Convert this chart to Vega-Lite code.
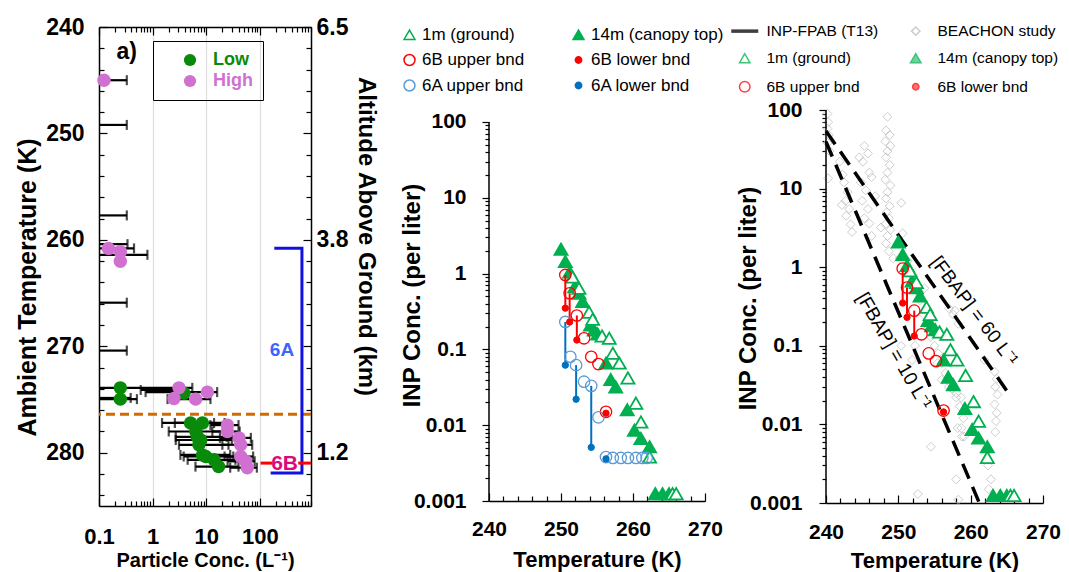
{
  "$schema": "https://vega.github.io/schema/vega-lite/v6.json",
  "padding": {"left": 15, "top": 16, "right": 5, "bottom": 2},
  "background": "white",
  "config": {
    "view": {"stroke": null},
    "font": "Liberation Sans",
    "axis": {
      "labelFont": "Liberation Sans", "titleFont": "Liberation Sans",
      "labelFontSize": 21, "labelFontWeight": "bold", "titleFontSize": 22, "titleFontWeight": "bold",
      "labelColor": "black", "titleColor": "black", "domainColor": "black", "tickColor": "black",
      "domainWidth": 1.5, "tickWidth": 1.2, "grid": false, "labelFlush": false, "labelOverlap": false
    },
    "legend": {"labelFont": "Liberation Sans", "labelColor": "black"}
  },
  "datasets": {
    "p1": [
      {"T": 245.0, "x": 0.124, "lo": 0.1, "hi": 0.33, "g": "High"},
      {"T": 249.2, "lo": 0.1, "hi": 0.33},
      {"T": 257.7, "lo": 0.1, "hi": 0.33},
      {"T": 260.4, "lo": 0.1, "hi": 0.34},
      {"T": 260.8, "x": 0.15, "lo": 0.1, "hi": 0.45, "g": "High"},
      {"T": 261.4, "lo": 0.1, "hi": 0.8},
      {"T": 261.1, "x": 0.25, "g": "High"},
      {"T": 262.0, "x": 0.25, "g": "High"},
      {"T": 265.9, "lo": 0.1, "hi": 0.33},
      {"T": 270.4, "lo": 0.1, "hi": 0.33},
      {"T": 273.9, "x": 0.25, "lo": 0.1, "hi": 5.5, "g": "Low"},
      {"T": 274.96, "x": 0.25, "lo": 0.1, "hi": 0.51, "g": "Low"},
      {"T": 274.4, "x": 3.85, "g": "Low"},
      {"T": 274.1, "lo": 0.6, "hi": 3.6},
      {"T": 274.85, "lo": 0.1, "hi": 0.39},
      {"T": 273.9, "x": 3.1, "g": "High"},
      {"T": 274.3, "x": 10.5, "lo": 0.74, "hi": 16, "g": "High"},
      {"T": 274.9, "x": 2.5, "g": "High"},
      {"T": 274.96, "x": 6.35, "lo": 1.9, "hi": 12, "g": "High"},
      {"T": 277.2, "x": 5.1, "lo": 1.5, "hi": 14, "g": "Low"},
      {"T": 277.2, "x": 8.5, "lo": 2.6, "hi": 22, "g": "Low"},
      {"T": 278.0, "x": 6.4, "lo": 2.0, "hi": 21, "g": "Low"},
      {"T": 278.5, "x": 6.8, "lo": 2.7, "hi": 24, "g": "Low"},
      {"T": 278.8, "x": 7.9, "lo": 2.7, "hi": 30, "g": "Low"},
      {"T": 279.25, "x": 7.3, "lo": 3.1, "hi": 26, "g": "Low"},
      {"T": 280.2, "x": 8.5, "lo": 3.3, "hi": 28, "g": "Low"},
      {"T": 280.35, "x": 9.8, "lo": 3.8, "hi": 32, "g": "Low"},
      {"T": 280.66, "x": 14, "lo": 4.5, "hi": 35, "g": "Low"},
      {"T": 281.3, "x": 17, "lo": 6.3, "hi": 40, "g": "Low"},
      {"T": 277.4, "x": 24.8, "lo": 12, "hi": 40, "g": "High"},
      {"T": 278.0, "x": 24.8, "lo": 13, "hi": 42, "g": "High"},
      {"T": 278.6, "x": 41, "lo": 18, "hi": 68, "g": "High"},
      {"T": 279.25, "x": 44, "lo": 20, "hi": 72, "g": "High"},
      {"T": 280.35, "x": 44, "lo": 22, "hi": 75, "g": "High"},
      {"T": 280.8, "x": 54.5, "lo": 25, "hi": 80, "g": "High"},
      {"T": 281.4, "x": 58.5, "lo": 28, "hi": 88, "g": "High"}
    ],
    "p1line": [{"T": 276.37}],
    "bracket": [
      {"x": 186, "T": 260.78, "k": 1},
      {"x": 610, "T": 260.78, "k": 2},
      {"x": 610, "T": 281.9, "k": 3},
      {"x": 159, "T": 281.9, "k": 4}
    ],
    "red6b": [
      {"x": 103, "x2": 170, "T": 280.97},
      {"x": 520, "x2": 900, "T": 280.97}
    ],
    "lab1": [
      {"x": 259, "T": 270.33, "t": "6A"},
      {"x": 289, "T": 281.05, "t": "6B"},
      {"x": 0.33, "T": 242.35, "t": "a)"}
    ],
    "yline": [{"T": 240, "lo": 0.001, "hi": 100}],
    "inp": [
      {"T": 250.0, "v": 2.1, "s": "14m (canopy top)"},
      {"T": 250.6, "v": 1.45, "s": "14m (canopy top)"},
      {"T": 251.2, "v": 1.05, "s": "14m (canopy top)"},
      {"T": 251.9, "v": 0.67, "s": "14m (canopy top)"},
      {"T": 252.5, "v": 0.55, "s": "14m (canopy top)"},
      {"T": 253.0, "v": 0.43, "s": "14m (canopy top)"},
      {"T": 254.1, "v": 0.21, "s": "14m (canopy top)"},
      {"T": 254.6, "v": 0.18, "s": "14m (canopy top)"},
      {"T": 255.1, "v": 0.16, "s": "14m (canopy top)"},
      {"T": 256.25, "v": 0.066, "s": "14m (canopy top)"},
      {"T": 256.9, "v": 0.04, "s": "14m (canopy top)"},
      {"T": 257.6, "v": 0.032, "s": "14m (canopy top)"},
      {"T": 259.2, "v": 0.016, "s": "14m (canopy top)"},
      {"T": 260.2, "v": 0.0086, "s": "14m (canopy top)"},
      {"T": 261.1, "v": 0.0067, "s": "14m (canopy top)"},
      {"T": 262.3, "v": 0.0052, "s": "14m (canopy top)"},
      {"T": 263.1, "v": 0.00125, "s": "14m (canopy top)"},
      {"T": 264.1, "v": 0.00125, "s": "14m (canopy top)"},
      {"T": 265.0, "v": 0.00125, "s": "14m (canopy top)"},
      {"T": 251.6, "v": 0.9, "s": "1m (ground)"},
      {"T": 252.5, "v": 0.64, "s": "1m (ground)"},
      {"T": 253.9, "v": 0.31, "s": "1m (ground)"},
      {"T": 254.4, "v": 0.25, "s": "1m (ground)"},
      {"T": 255.7, "v": 0.15, "s": "1m (ground)"},
      {"T": 256.7, "v": 0.14, "s": "1m (ground)"},
      {"T": 257.2, "v": 0.089, "s": "1m (ground)"},
      {"T": 258.1, "v": 0.066, "s": "1m (ground)"},
      {"T": 259.3, "v": 0.042, "s": "1m (ground)"},
      {"T": 260.4, "v": 0.0195, "s": "1m (ground)"},
      {"T": 261.1, "v": 0.011, "s": "1m (ground)"},
      {"T": 262.3, "v": 0.0038, "s": "1m (ground)"},
      {"T": 265.5, "v": 0.00125, "s": "1m (ground)"},
      {"T": 266.0, "v": 0.00125, "s": "1m (ground)"},
      {"T": 250.6, "v": 0.96, "s": "6B upper bnd"},
      {"T": 251.2, "v": 0.55, "s": "6B upper bnd"},
      {"T": 252.2, "v": 0.28, "s": "6B upper bnd"},
      {"T": 253.2, "v": 0.14, "s": "6B upper bnd"},
      {"T": 254.2, "v": 0.08, "s": "6B upper bnd"},
      {"T": 255.2, "v": 0.064, "s": "6B upper bnd"},
      {"T": 256.25, "v": 0.015, "s": "6B upper bnd"},
      {"T": 250.6, "v": 0.35, "s": "6B lower bnd"},
      {"T": 251.2, "v": 0.23, "s": "6B lower bnd"},
      {"T": 252.2, "v": 0.133, "s": "6B lower bnd"},
      {"T": 256.25, "v": 0.0144, "s": "6B lower bnd"},
      {"T": 250.6, "v": 0.23, "s": "6A upper bnd"},
      {"T": 251.3, "v": 0.08, "s": "6A upper bnd"},
      {"T": 252.1, "v": 0.062, "s": "6A upper bnd"},
      {"T": 253.2, "v": 0.0375, "s": "6A upper bnd"},
      {"T": 254.2, "v": 0.033, "s": "6A upper bnd"},
      {"T": 255.2, "v": 0.0127, "s": "6A upper bnd"},
      {"T": 256.25, "v": 0.0038, "s": "6A upper bnd"},
      {"T": 257.2, "v": 0.0037, "s": "6A upper bnd"},
      {"T": 258.3, "v": 0.0037, "s": "6A upper bnd"},
      {"T": 259.3, "v": 0.0037, "s": "6A upper bnd"},
      {"T": 260.4, "v": 0.0037, "s": "6A upper bnd"},
      {"T": 261.3, "v": 0.0037, "s": "6A upper bnd"},
      {"T": 261.9, "v": 0.0037, "s": "6A upper bnd"},
      {"T": 250.6, "v": 0.062, "s": "6A lower bnd"},
      {"T": 252.1, "v": 0.022, "s": "6A lower bnd"},
      {"T": 254.2, "v": 0.0051, "s": "6A lower bnd"},
      {"T": 256.25, "v": 0.0036, "s": "6A lower bnd"}
    ],
    "conn": [
      {"T": 250.6, "hi": 0.96, "lo": 0.35, "b": "6B"},
      {"T": 251.2, "hi": 0.55, "lo": 0.23, "b": "6B"},
      {"T": 252.2, "hi": 0.28, "lo": 0.133, "b": "6B"},
      {"T": 250.6, "hi": 0.23, "lo": 0.062, "b": "6A"},
      {"T": 252.1, "hi": 0.062, "lo": 0.022, "b": "6A"},
      {"T": 254.2, "hi": 0.033, "lo": 0.0051, "b": "6A"}
    ],
    "bch": [
      {"T": 240.2, "v": 90, "s": "BEACHON study"}, {"T": 240.3, "v": 70, "s": "BEACHON study"},
      {"T": 240.2, "v": 58, "s": "BEACHON study"}, {"T": 240.4, "v": 48, "s": "BEACHON study"},
      {"T": 240.2, "v": 38, "s": "BEACHON study"}, {"T": 240.5, "v": 30, "s": "BEACHON study"},
      {"T": 240.3, "v": 13.5, "s": "BEACHON study"},
      {"T": 241.9, "v": 22, "s": "BEACHON study"}, {"T": 242.3, "v": 15, "s": "BEACHON study"},
      {"T": 242.5, "v": 12, "s": "BEACHON study"}, {"T": 243.0, "v": 9, "s": "BEACHON study"},
      {"T": 242.7, "v": 7, "s": "BEACHON study"}, {"T": 243.2, "v": 5.5, "s": "BEACHON study"},
      {"T": 242.8, "v": 4.5, "s": "BEACHON study"}, {"T": 243.4, "v": 3.5, "s": "BEACHON study"},
      {"T": 243.6, "v": 2.8, "s": "BEACHON study"}, {"T": 242.2, "v": 6.2, "s": "BEACHON study"},
      {"T": 244.6, "v": 25, "s": "BEACHON study"}, {"T": 245.3, "v": 35, "s": "BEACHON study"},
      {"T": 245.8, "v": 28, "s": "BEACHON study"}, {"T": 245.1, "v": 22, "s": "BEACHON study"},
      {"T": 246.0, "v": 16, "s": "BEACHON study"}, {"T": 246.3, "v": 14, "s": "BEACHON study"},
      {"T": 245.5, "v": 9.5, "s": "BEACHON study"}, {"T": 245.0, "v": 7, "s": "BEACHON study"},
      {"T": 245.8, "v": 5.5, "s": "BEACHON study"}, {"T": 245.3, "v": 4.2, "s": "BEACHON study"},
      {"T": 246.0, "v": 3.6, "s": "BEACHON study"}, {"T": 246.3, "v": 2.5, "s": "BEACHON study"},
      {"T": 244.8, "v": 12, "s": "BEACHON study"}, {"T": 246.8, "v": 8, "s": "BEACHON study"},
      {"T": 248.5, "v": 82, "s": "BEACHON study"}, {"T": 248.3, "v": 55, "s": "BEACHON study"},
      {"T": 248.8, "v": 48, "s": "BEACHON study"}, {"T": 248.2, "v": 40, "s": "BEACHON study"},
      {"T": 248.9, "v": 35, "s": "BEACHON study"}, {"T": 248.5, "v": 30, "s": "BEACHON study"},
      {"T": 248.3, "v": 25, "s": "BEACHON study"}, {"T": 248.8, "v": 20, "s": "BEACHON study"},
      {"T": 248.5, "v": 16, "s": "BEACHON study"}, {"T": 248.2, "v": 13, "s": "BEACHON study"},
      {"T": 248.9, "v": 11, "s": "BEACHON study"}, {"T": 248.5, "v": 9, "s": "BEACHON study"},
      {"T": 248.3, "v": 7.5, "s": "BEACHON study"}, {"T": 248.8, "v": 6, "s": "BEACHON study"},
      {"T": 248.4, "v": 5, "s": "BEACHON study"}, {"T": 248.7, "v": 4.2, "s": "BEACHON study"},
      {"T": 248.2, "v": 3.5, "s": "BEACHON study"}, {"T": 248.9, "v": 3, "s": "BEACHON study"},
      {"T": 248.5, "v": 2.5, "s": "BEACHON study"}, {"T": 248.3, "v": 2, "s": "BEACHON study"},
      {"T": 248.7, "v": 1.6, "s": "BEACHON study"}, {"T": 247.6, "v": 3.2, "s": "BEACHON study"},
      {"T": 249.3, "v": 1.3, "s": "BEACHON study"},
      {"T": 250.4, "v": 6.6, "s": "BEACHON study"}, {"T": 250.6, "v": 2.7, "s": "BEACHON study"},
      {"T": 250.2, "v": 1.3, "s": "BEACHON study"},
      {"T": 251.3, "v": 1.2, "s": "BEACHON study"}, {"T": 252.0, "v": 0.8, "s": "BEACHON study"},
      {"T": 252.5, "v": 0.5, "s": "BEACHON study"}, {"T": 253.0, "v": 0.38, "s": "BEACHON study"},
      {"T": 253.6, "v": 0.54, "s": "BEACHON study"}, {"T": 253.5, "v": 0.25, "s": "BEACHON study"},
      {"T": 254.0, "v": 0.18, "s": "BEACHON study"}, {"T": 254.5, "v": 0.13, "s": "BEACHON study"},
      {"T": 255.0, "v": 0.1, "s": "BEACHON study"}, {"T": 255.5, "v": 0.08, "s": "BEACHON study"},
      {"T": 256.0, "v": 0.06, "s": "BEACHON study"}, {"T": 256.5, "v": 0.045, "s": "BEACHON study"},
      {"T": 257.0, "v": 0.035, "s": "BEACHON study"}, {"T": 257.5, "v": 0.028, "s": "BEACHON study"},
      {"T": 258.0, "v": 0.022, "s": "BEACHON study"}, {"T": 258.5, "v": 0.017, "s": "BEACHON study"},
      {"T": 259.0, "v": 0.012, "s": "BEACHON study"}, {"T": 258.2, "v": 0.009, "s": "BEACHON study"},
      {"T": 258.8, "v": 0.007, "s": "BEACHON study"}, {"T": 250.4, "v": 0.1, "s": "BEACHON study"},
      {"T": 251.9, "v": 0.066, "s": "BEACHON study"}, {"T": 252.3, "v": 0.1, "s": "BEACHON study"},
      {"T": 255.4, "v": 0.06, "s": "BEACHON study"}, {"T": 256.0, "v": 0.037, "s": "BEACHON study"},
      {"T": 257.0, "v": 0.03, "s": "BEACHON study"}, {"T": 258.0, "v": 0.025, "s": "BEACHON study"},
      {"T": 258.7, "v": 0.022, "s": "BEACHON study"},
      {"T": 257.0, "v": 0.3, "s": "BEACHON study"}, {"T": 257.6, "v": 0.25, "s": "BEACHON study"},
      {"T": 258.3, "v": 0.19, "s": "BEACHON study"}, {"T": 257.8, "v": 0.28, "s": "BEACHON study"},
      {"T": 261.9, "v": 0.066, "s": "BEACHON study"},
      {"T": 263.3, "v": 0.047, "s": "BEACHON study"}, {"T": 263.6, "v": 0.038, "s": "BEACHON study"},
      {"T": 263.4, "v": 0.03, "s": "BEACHON study"}, {"T": 263.7, "v": 0.024, "s": "BEACHON study"},
      {"T": 263.3, "v": 0.018, "s": "BEACHON study"}, {"T": 263.6, "v": 0.014, "s": "BEACHON study"},
      {"T": 263.5, "v": 0.011, "s": "BEACHON study"}, {"T": 263.4, "v": 0.008, "s": "BEACHON study"},
      {"T": 258.7, "v": 0.009, "s": "BEACHON study"}, {"T": 259.1, "v": 0.007, "s": "BEACHON study"},
      {"T": 262.8, "v": 0.002, "s": "BEACHON study"}, {"T": 262.4, "v": 0.003, "s": "BEACHON study"},
      {"T": 258.0, "v": 0.002, "s": "BEACHON study"}, {"T": 258.3, "v": 0.0011, "s": "BEACHON study"},
      {"T": 252.7, "v": 0.0013, "s": "BEACHON study"}, {"T": 254.5, "v": 0.0052, "s": "BEACHON study"},
      {"T": 262.5, "v": 0.0015, "s": "BEACHON study"}
    ],
    "fbap": [
      {"T": 240, "v": 54, "line": "60"},
      {"T": 265.5, "v": 0.023, "line": "60"},
      {"T": 240, "v": 39.5, "line": "10"},
      {"T": 261.2, "v": 0.001, "line": "10"}
    ],
    "fbapText": [
      {"T": 260.5, "v": 0.277, "t": "[FBAP] = 60 L⁻¹"},
      {"T": 249.4, "v": 0.086, "t": "[FBAP] = 10 L⁻¹"}
    ]
  },
  "bounds": "flush",
  "spacing": 178,
  "resolve": {
    "scale": {"x": "independent", "y": "independent", "fill": "independent", "stroke": "independent", "shape": "independent", "color": "independent"},
    "legend": {"fill": "independent", "stroke": "independent", "shape": "independent", "color": "independent"}
  },
  "hconcat": [
    {
      "width": 212,
      "height": 479,
      "resolve": {"axis": {"x": "independent", "y": "independent"}},
      "layer": [
        {
          "data": {"name": "p1"},
          "transform": [{"filter": "datum.hi > 0"}],
          "mark": {"type": "rule", "color": "black", "strokeWidth": 2.2},
          "encoding": {
            "x": {"field": "lo", "type": "quantitative", "scale": {"type": "log", "domain": [0.1, 900], "nice": false},
              "axis": {"orient": "bottom",
                "values": [0.1,0.2,0.3,0.4,0.5,0.6,0.7,0.8,0.9,1,2,3,4,5,6,7,8,9,10,20,30,40,50,60,70,80,90,100,200,300,400,500,600,700,800,900],
                "labelExpr": "datum.value == 0.1 ? '0.1' : datum.value == 1 ? '1' : datum.value == 10 ? '10' : datum.value == 100 ? '100' : ''",
                "tickSize": {"condition": {"test": "indexof([0.1,1,10,100], datum.value) >= 0", "value": -8}, "value": -5},
                "labelFontSize": 22, "labelPadding": 28, "title": "Particle Conc. (L⁻¹)", "titleFontSize": 20, "titlePadding": 0,
                "grid": true, "gridColor": "#dddddd", "gridWidth": 1.2,
                "gridOpacity": {"condition": {"test": "indexof([1,10,100], datum.value) >= 0", "value": 1}, "value": 0}}},
            "x2": {"field": "hi"},
            "y": {"field": "T", "type": "quantitative", "scale": {"domain": [240, 285], "reverse": true, "zero": false, "nice": false},
              "axis": {"orient": "left",
                "values": [240,242,244,246,248,250,252,254,256,258,260,262,264,266,268,270,272,274,276,278,280,282,284],
                "labelExpr": "datum.value % 10 == 0 ? datum.label : ''",
                "tickSize": {"condition": {"test": "datum.value % 10 == 0", "value": -8}, "value": -5},
                "labelFontSize": 23, "labelPadding": 23, "title": "Ambient Temperature (K)", "titleFontSize": 25,
                "titleX": -72, "titleY": 260, "titleBaseline": "middle"}}
          }
        },
        {
          "data": {"name": "p1"},
          "transform": [{"filter": "datum.lo > 0.1"}],
          "mark": {"type": "tick", "orient": "vertical", "color": "black", "size": 10, "thickness": 2.2},
          "encoding": {
            "x": {"field": "lo", "type": "quantitative", "axis": null},
            "y": {"field": "T", "type": "quantitative", "axis": null}
          }
        },
        {
          "data": {"name": "p1"},
          "transform": [{"filter": "datum.hi > 0"}],
          "mark": {"type": "tick", "orient": "vertical", "color": "black", "size": 10, "thickness": 2.2},
          "encoding": {
            "x": {"field": "hi", "type": "quantitative", "axis": null},
            "y": {"field": "T", "type": "quantitative", "axis": null}
          }
        },
        {
          "data": {"name": "p1line"},
          "mark": {"type": "rule", "color": "#d26a00", "strokeWidth": 3, "strokeDash": [9, 5]},
          "encoding": {"y": {"field": "T", "type": "quantitative", "axis": null}}
        },
        {
          "data": {"name": "p1"},
          "transform": [{"filter": "datum.x > 0"}],
          "mark": {"type": "circle", "size": 180, "opacity": 1},
          "encoding": {
            "x": {"field": "x", "type": "quantitative", "axis": null},
            "y": {"field": "T", "type": "quantitative", "axis": null},
            "fill": {"field": "g", "type": "nominal",
              "scale": {"domain": ["Low", "High"], "range": ["#0a8a0a", "#d070d0"]},
              "legend": {"title": null, "orient": "none", "legendX": 54, "legendY": 14, "strokeColor": "black",
                "padding": 10, "symbolOffset": 18, "labelOffset": 14, "labelFontSize": 18, "labelFontWeight": "bold",
                "symbolSize": 150, "rowPadding": 3, "symbolType": "circle",
                "labelColor": {"expr": "datum.value == 'Low' ? '#0a8a0a' : '#d070d0'"}}}
          }
        },
        {
          "data": {"name": "bracket"},
          "mark": {"type": "line", "color": "#1010e0", "strokeWidth": 3},
          "encoding": {
            "x": {"field": "x", "type": "quantitative", "axis": null},
            "y": {"field": "T", "type": "quantitative", "axis": null},
            "order": {"field": "k"}
          }
        },
        {
          "data": {"name": "red6b"},
          "mark": {"type": "rule", "color": "#ff0000", "strokeWidth": 3},
          "encoding": {
            "x": {"field": "x", "type": "quantitative", "axis": null},
            "x2": {"field": "x2"},
            "y": {"field": "T", "type": "quantitative", "axis": null}
          }
        },
        {
          "data": {"name": "lab1"},
          "transform": [{"filter": "datum.t == '6A'"}],
          "mark": {"type": "text", "color": "#3c64ff", "fontSize": 19, "fontWeight": "bold", "font": "Liberation Sans"},
          "encoding": {
            "x": {"field": "x", "type": "quantitative", "axis": null},
            "y": {"field": "T", "type": "quantitative", "axis": null},
            "text": {"field": "t"}
          }
        },
        {
          "data": {"name": "lab1"},
          "transform": [{"filter": "datum.t == '6B'"}],
          "mark": {"type": "text", "color": "#dc0a78", "fontSize": 21, "fontWeight": "bold", "font": "Liberation Sans"},
          "encoding": {
            "x": {"field": "x", "type": "quantitative", "axis": null},
            "y": {"field": "T", "type": "quantitative", "axis": null},
            "text": {"field": "t"}
          }
        },
        {
          "data": {"name": "lab1"},
          "transform": [{"filter": "datum.t == 'a)'"}],
          "mark": {"type": "text", "color": "black", "fontSize": 23, "fontWeight": "bold", "font": "Liberation Sans"},
          "encoding": {
            "x": {"field": "x", "type": "quantitative",
              "axis": {"orient": "top",
                "values": [0.1,0.2,0.3,0.4,0.5,0.6,0.7,0.8,0.9,1,2,3,4,5,6,7,8,9,10,20,30,40,50,60,70,80,90,100,200,300,400,500,600,700,800,900],
                "labels": false, "title": null,
                "tickSize": {"condition": {"test": "indexof([0.1,1,10,100], datum.value) >= 0", "value": -8}, "value": -5}}},
            "y": {"field": "T", "type": "quantitative",
              "axis": {"orient": "right",
                "values": [240,242,244,246,248,250,252,254,256,258,260,262,264,266,268,270,272,274,276,278,280,282,284],
                "labelExpr": "datum.value == 240 ? '6.5' : datum.value == 260 ? '3.8' : datum.value == 280 ? '1.2' : ''",
                "tickSize": {"condition": {"test": "datum.value % 10 == 0", "value": -8}, "value": -5},
                "labelFontSize": 23, "labelPadding": 13, "title": "Altitude Above Ground (km)", "titleAngle": 90, "titleFontSize": 24,
                "titleX": 54, "titleY": 209, "titleBaseline": "middle"}},
            "text": {"field": "t"}
          }
        }
      ]
    },
    {
      "bounds": "flush",
      "spacing": 121,
      "resolve": {
        "scale": {"x": "independent", "y": "independent", "fill": "independent", "stroke": "independent", "shape": "independent", "color": "independent"},
        "legend": {"fill": "independent", "stroke": "independent", "shape": "independent", "color": "independent"}
      },
      "hconcat": [
        {
          "width": 216,
          "height": 474,
          "layer": [
            {
              "data": {"name": "yline"},
              "mark": {"type": "rule", "color": "black", "strokeWidth": 1.5},
              "encoding": {
                "x": {"field": "T", "type": "quantitative", "scale": {"domain": [240, 270], "nice": false, "zero": false},
                  "axis": {"orient": "bottom", "values": [240,242,244,246,248,250,252,254,256,258,260,262,264,266,268,270],
                    "tickCount": 60,
                    "labelExpr": "datum.value % 10 == 0 ? '' + datum.value : ''",
                    "tickSize": {"condition": {"test": "datum.value % 10 == 0", "value": -8}, "value": -5},
                    "labelPadding": 25, "title": "Temperature (K)", "titlePadding": 7}},
                "y": {"field": "lo", "type": "quantitative", "scale": {"type": "log", "domain": [0.001, 1791], "nice": false},
                  "axis": {"orient": "left", "domain": false,
                    "values": [0.001,0.002,0.003,0.004,0.005,0.006,0.007,0.008,0.009,0.01,0.02,0.03,0.04,0.05,0.06,0.07,0.08,0.09,0.1,0.2,0.3,0.4,0.5,0.6,0.7,0.8,0.9,1,2,3,4,5,6,7,8,9,10,20,30,40,50,60,70,80,90,100],
                    "tickCount": 100,
                    "labelExpr": "datum.value == 0.001 ? '0.001' : datum.value == 0.01 ? '0.01' : datum.value == 0.1 ? '0.1' : datum.value == 1 ? '1' : datum.value == 10 ? '10' : datum.value == 100 ? '100' : ''",
                    "tickSize": {"condition": {"test": "indexof([0.001,0.01,0.1,1,10,100], datum.value) >= 0", "value": 7}, "value": 4},
                    "labelPadding": 16, "title": "INP Conc. (per liter)", "titleFontSize": 24, "titleX": -77, "titleY": 268, "titleBaseline": "middle"}},
                "y2": {"field": "hi"}
              }
            },
            {
              "data": {"name": "inp"},
              "transform": [{"filter": "datum.s == '1m (ground)' || datum.s == '14m (canopy top)'"}],
              "mark": {"type": "point", "filled": true, "opacity": 1, "size": 170, "strokeWidth": 1.8},
              "encoding": {
                "x": {"field": "T", "type": "quantitative"},
                "y": {"field": "v", "type": "quantitative"},
                "shape": {"field": "s", "type": "nominal",
                  "scale": {"domain": ["1m (ground)", "14m (canopy top)", "6B upper bnd", "6B lower bnd", "6A upper bnd", "6A lower bnd"],
                    "range": ["triangle-up", "triangle-up", "circle", "circle", "circle", "circle"]},
                  "legend": {"title": null, "orient": "none", "direction": "horizontal", "legendX": -88, "legendY": -1, "columns": 2, "columnPadding": 45, "rowPadding": 7.5,
                    "labelFontSize": 17, "labelOffset": 4, "symbolStrokeWidth": 1.5,
                    "symbolSize": {"expr": "datum.value == '6B lower bnd' || datum.value == '6A lower bnd' ? 40 : 120"}}},
                "fill": {"field": "s", "type": "nominal",
                  "scale": {"domain": ["1m (ground)", "14m (canopy top)", "6B upper bnd", "6B lower bnd", "6A upper bnd", "6A lower bnd"],
                    "range": ["white", "#00b050", "transparent", "#ff0000", "transparent", "#0070c0"]},
                  "legend": {"title": null, "orient": "none", "direction": "horizontal", "legendX": -88, "legendY": -1, "columns": 2, "columnPadding": 45, "rowPadding": 7.5,
                    "labelFontSize": 17, "labelOffset": 4, "symbolStrokeWidth": 1.5,
                    "symbolSize": {"expr": "datum.value == '6B lower bnd' || datum.value == '6A lower bnd' ? 40 : 120"}}},
                "stroke": {"field": "s", "type": "nominal",
                  "scale": {"domain": ["1m (ground)", "14m (canopy top)", "6B upper bnd", "6B lower bnd", "6A upper bnd", "6A lower bnd"],
                    "range": ["#00b050", "#00b050", "#ff0000", "#ff0000", "#5b9bd5", "#0070c0"]},
                  "legend": {"title": null, "orient": "none", "direction": "horizontal", "legendX": -88, "legendY": -1, "columns": 2, "columnPadding": 45, "rowPadding": 7.5,
                    "labelFontSize": 17, "labelOffset": 4, "symbolStrokeWidth": 1.5,
                    "symbolSize": {"expr": "datum.value == '6B lower bnd' || datum.value == '6A lower bnd' ? 40 : 120"}}}
              }
            },
            {
              "data": {"name": "conn"},
              "mark": {"type": "rule", "strokeWidth": 2},
              "encoding": {
                "x": {"field": "T", "type": "quantitative"},
                "y": {"field": "hi", "type": "quantitative"},
                "y2": {"field": "lo"},
                "color": {"field": "b", "type": "nominal", "scale": {"domain": ["6B", "6A"], "range": ["#ff0000", "#0070c0"]}, "legend": null}
              }
            },
            {
              "data": {"name": "inp"},
              "transform": [{"filter": "datum.s == '6B upper bnd' || datum.s == '6A upper bnd'"}],
              "mark": {"type": "point", "filled": true, "opacity": 1, "size": 130, "strokeWidth": 1.3},
              "encoding": {
                "x": {"field": "T", "type": "quantitative"},
                "y": {"field": "v", "type": "quantitative"},
                "shape": {"field": "s", "type": "nominal"},
                "fill": {"field": "s", "type": "nominal"},
                "stroke": {"field": "s", "type": "nominal"}
              }
            },
            {
              "data": {"name": "inp"},
              "transform": [{"filter": "datum.s == '6B lower bnd' || datum.s == '6A lower bnd'"}],
              "mark": {"type": "point", "filled": true, "opacity": 1, "size": 40, "strokeWidth": 1},
              "encoding": {
                "x": {"field": "T", "type": "quantitative"},
                "y": {"field": "v", "type": "quantitative"},
                "shape": {"field": "s", "type": "nominal"},
                "fill": {"field": "s", "type": "nominal"},
                "stroke": {"field": "s", "type": "nominal"}
              }
            }
          ]
        },
        {
          "width": 217,
          "height": 476,
          "layer": [
            {
              "data": {"name": "bch"},
              "mark": {"type": "point", "filled": true, "opacity": 0.75, "size": 80, "strokeWidth": 1},
              "encoding": {
                "x": {"field": "T", "type": "quantitative", "scale": {"domain": [240, 270], "nice": false, "zero": false},
                  "axis": {"orient": "bottom", "values": [240,242,244,246,248,250,252,254,256,258,260,262,264,266,268,270],
                    "tickCount": 60,
                    "labelExpr": "datum.value % 10 == 0 ? '' + datum.value : ''",
                    "tickSize": {"condition": {"test": "datum.value % 10 == 0", "value": -8}, "value": -5},
                    "labelPadding": 26, "title": "Temperature (K)", "titlePadding": 5}},
                "y": {"field": "v", "type": "quantitative", "scale": {"type": "log", "domain": [0.001, 1138], "nice": false},
                  "axis": {"orient": "left", "domain": false,
                    "values": [0.001,0.002,0.003,0.004,0.005,0.006,0.007,0.008,0.009,0.01,0.02,0.03,0.04,0.05,0.06,0.07,0.08,0.09,0.1,0.2,0.3,0.4,0.5,0.6,0.7,0.8,0.9,1,2,3,4,5,6,7,8,9,10,20,30,40,50,60,70,80,90,100],
                    "tickCount": 100,
                    "labelExpr": "datum.value == 0.001 ? '0.001' : datum.value == 0.01 ? '0.01' : datum.value == 0.1 ? '0.1' : datum.value == 1 ? '1' : datum.value == 10 ? '10' : datum.value == 100 ? '100' : ''",
                    "tickSize": {"condition": {"test": "indexof([0.001,0.01,0.1,1,10,100], datum.value) >= 0", "value": 7}, "value": 4},
                    "labelPadding": 17, "title": "INP Conc. (per liter)", "titleFontSize": 24, "titleX": -78, "titleY": 271, "titleBaseline": "middle"}},
                "shape": {"field": "s", "type": "nominal",
                  "scale": {"domain": ["INP-FPAB (T13)", "BEACHON study", "1m (ground)", "14m (canopy top)", "6B upper bnd", "6B lower bnd"],
                    "range": ["stroke", "diamond", "triangle-up", "triangle-up", "circle", "circle"]},
                  "legend": {"title": null, "orient": "none", "direction": "horizontal", "legendX": -89, "legendY": -4, "columns": 2, "columnPadding": 28, "rowPadding": 10.5,
                    "labelFontSize": 15.5, "labelOffset": 14,
                    "symbolStrokeWidth": {"expr": "datum.value == 'INP-FPAB (T13)' ? 3.5 : 1.5"},
                    "symbolSize": {"expr": "datum.value == 'INP-FPAB (T13)' ? 729 : datum.value == '6B lower bnd' ? 40 : datum.value == 'BEACHON study' ? 70 : 110"}}},
                "fill": {"field": "s", "type": "nominal",
                  "scale": {"domain": ["INP-FPAB (T13)", "BEACHON study", "1m (ground)", "14m (canopy top)", "6B upper bnd", "6B lower bnd"],
                    "range": ["transparent", "transparent", "white", "#00b050", "transparent", "#ff0000"]},
                  "legend": {"title": null, "orient": "none", "direction": "horizontal", "legendX": -89, "legendY": -4, "columns": 2, "columnPadding": 28, "rowPadding": 10.5,
                    "labelFontSize": 15.5, "labelOffset": 14,
                    "symbolStrokeWidth": {"expr": "datum.value == 'INP-FPAB (T13)' ? 3.5 : 1.5"},
                    "symbolSize": {"expr": "datum.value == 'INP-FPAB (T13)' ? 729 : datum.value == '6B lower bnd' ? 40 : datum.value == 'BEACHON study' ? 70 : 110"}}},
                "stroke": {"field": "s", "type": "nominal",
                  "scale": {"domain": ["INP-FPAB (T13)", "BEACHON study", "1m (ground)", "14m (canopy top)", "6B upper bnd", "6B lower bnd"],
                    "range": ["#000000", "#bdbdbd", "#00b050", "#00b050", "#ff0000", "#ff0000"]},
                  "legend": {"title": null, "orient": "none", "direction": "horizontal", "legendX": -89, "legendY": -4, "columns": 2, "columnPadding": 28, "rowPadding": 10.5,
                    "labelFontSize": 15.5, "labelOffset": 14,
                    "symbolStrokeWidth": {"expr": "datum.value == 'INP-FPAB (T13)' ? 3.5 : 1.5"},
                    "symbolSize": {"expr": "datum.value == 'INP-FPAB (T13)' ? 729 : datum.value == '6B lower bnd' ? 40 : datum.value == 'BEACHON study' ? 70 : 110"}}}
              }
            },
            {
              "data": {"name": "yline"},
              "mark": {"type": "rule", "color": "black", "strokeWidth": 1.5},
              "encoding": {
                "x": {"field": "T", "type": "quantitative"},
                "y": {"field": "lo", "type": "quantitative"},
                "y2": {"field": "hi"}
              }
            },
            {
              "data": {"name": "fbap"},
              "mark": {"type": "line", "color": "black", "strokeWidth": 3.5, "strokeDash": [16, 9]},
              "encoding": {
                "x": {"field": "T", "type": "quantitative"},
                "y": {"field": "v", "type": "quantitative"},
                "detail": {"field": "line"}
              }
            },
            {
              "data": {"name": "inp"},
              "transform": [{"filter": "datum.s == '1m (ground)' || datum.s == '14m (canopy top)'"}],
              "mark": {"type": "point", "filled": true, "opacity": 1, "size": 170, "strokeWidth": 1.8},
              "encoding": {
                "x": {"field": "T", "type": "quantitative"},
                "y": {"field": "v", "type": "quantitative"},
                "shape": {"field": "s", "type": "nominal"},
                "fill": {"field": "s", "type": "nominal"},
                "stroke": {"field": "s", "type": "nominal"}
              }
            },
            {
              "data": {"name": "conn"},
              "transform": [{"filter": "datum.b == '6B'"}],
              "mark": {"type": "rule", "strokeWidth": 2, "color": "#ff0000"},
              "encoding": {
                "x": {"field": "T", "type": "quantitative"},
                "y": {"field": "hi", "type": "quantitative"},
                "y2": {"field": "lo"}
              }
            },
            {
              "data": {"name": "inp"},
              "transform": [{"filter": "datum.s == '6B upper bnd'"}],
              "mark": {"type": "point", "filled": true, "opacity": 1, "size": 130, "strokeWidth": 1.3},
              "encoding": {
                "x": {"field": "T", "type": "quantitative"},
                "y": {"field": "v", "type": "quantitative"},
                "shape": {"field": "s", "type": "nominal"},
                "fill": {"field": "s", "type": "nominal"},
                "stroke": {"field": "s", "type": "nominal"}
              }
            },
            {
              "data": {"name": "inp"},
              "transform": [{"filter": "datum.s == '6B lower bnd'"}],
              "mark": {"type": "point", "filled": true, "opacity": 1, "size": 40, "strokeWidth": 1},
              "encoding": {
                "x": {"field": "T", "type": "quantitative"},
                "y": {"field": "v", "type": "quantitative"},
                "shape": {"field": "s", "type": "nominal"},
                "fill": {"field": "s", "type": "nominal"},
                "stroke": {"field": "s", "type": "nominal"}
              }
            },
            {
              "data": {"name": "fbapText"},
              "transform": [{"filter": "indexof(datum.t, '60') >= 0"}],
              "mark": {"type": "text", "angle": 53, "fontSize": 19, "font": "Liberation Sans", "color": "black"},
              "encoding": {
                "x": {"field": "T", "type": "quantitative"},
                "y": {"field": "v", "type": "quantitative"},
                "text": {"field": "t"}
              }
            },
            {
              "data": {"name": "fbapText"},
              "transform": [{"filter": "indexof(datum.t, '10') >= 0"}],
              "mark": {"type": "text", "angle": 60, "fontSize": 19, "font": "Liberation Sans", "color": "black"},
              "encoding": {
                "x": {"field": "T", "type": "quantitative"},
                "y": {"field": "v", "type": "quantitative"},
                "text": {"field": "t"}
              }
            }
          ]
        }
      ]
    }
  ]
}
